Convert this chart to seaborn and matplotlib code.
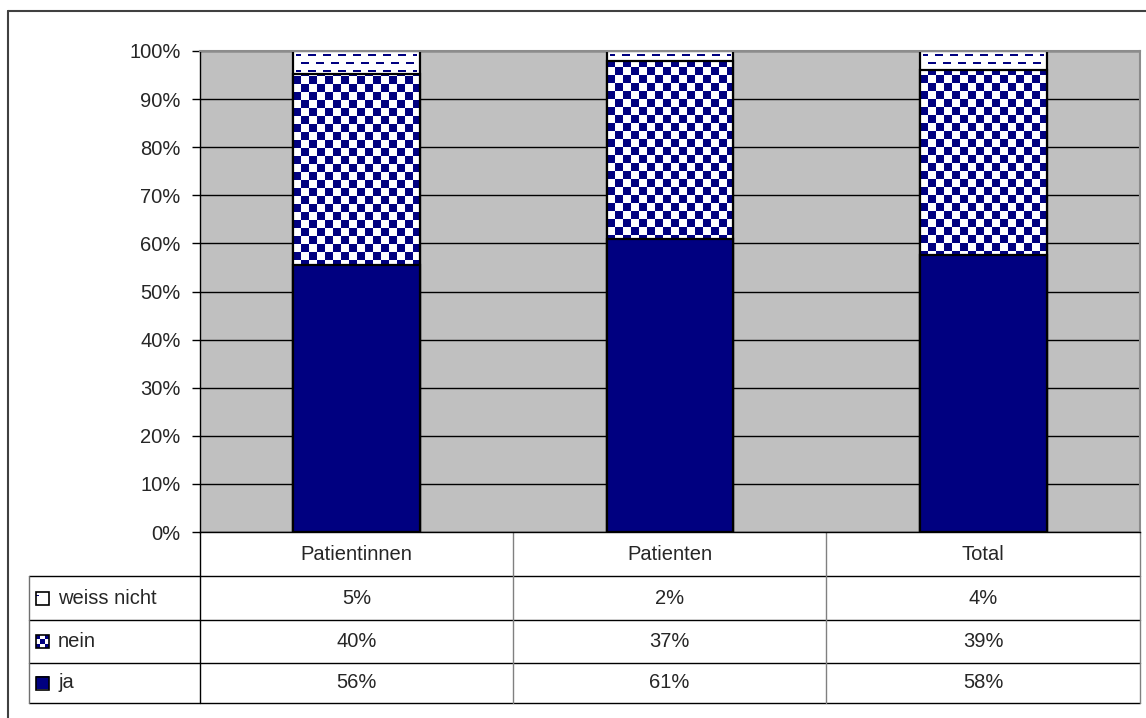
import numpy as np
import pandas as pd
import seaborn as sns
import matplotlib.pyplot as plt
from matplotlib.ticker import FuncFormatter

# Werte (Anteile in %)
categories = ['Patientinnen', 'Patienten', 'Total']
ja = [55.6, 60.9, 57.5]
nein = [39.6, 37.1, 38.6]
weiss_nicht = [4.8, 2.0, 3.9]
series_names = ['weiss nicht', 'nein', 'ja']

NAVY = '#000080'
GRAU = '#C0C0C0'
FS = 14.5

sns.set_style('white')
plt.rcParams['font.family'] = ['Liberation Sans', 'DejaVu Sans']
plt.rcParams['font.size'] = FS

W_PX, H_PX = 1146, 718
fig = plt.figure(figsize=(W_PX / 100, H_PX / 100), dpi=100)
ax = fig.add_axes([200 / W_PX, 1 - 532 / H_PX, 940 / W_PX, 481 / H_PX])
ax.set_facecolor(GRAU)

df = pd.DataFrame({'kat': categories, 'ja': ja, 'nein': nein, 'weiss': weiss_nicht})
df['bis_nein'] = df['ja'] + df['nein']
df['bis_weiss'] = df['bis_nein'] + df['weiss']


def texture(ax, patch, kind, z):
    x0, y0 = patch.get_x(), patch.get_y()
    w, h = patch.get_width(), patch.get_height()
    (px0, py0), (px1, py1) = ax.transData.transform([(x0, y0), (x0 + w, y0 + h)])
    W = max(int(round(px1 - px0)), 1)
    H = max(int(round(py1 - py0)), 1)
    yy, xx = np.mgrid[0:H, 0:W]
    if kind == 'checker':
        yb = H - 1 - yy  # vom Balkenboden aus
        mask = ((xx // 8 + yb // 8) % 2 == 0)
    else:
        row = (yy - 3) % 8
        off = ((yy - 3) // 8 % 2) * 7
        mask = (row < 2) & (((xx + off) % 15) < 8) & (xx > 2) & (xx < W - 3)
    img = np.ones((H, W, 3))
    img[mask] = np.array([0, 0, 128]) / 255
    im = ax.imshow(img, extent=(x0, x0 + w, y0, y0 + h), origin='upper',
                   interpolation='nearest', aspect='auto', zorder=z + 0.1)
    im.set_clip_path(patch)
    patch.set_facecolor('none')
    patch.set_zorder(z + 0.2)


# gestapelt: kumulierte Balken überlagert
sns.barplot(data=df, x='kat', y='bis_weiss', color='white', saturation=1, width=0.405,
            edgecolor='black', linewidth=1.6, ax=ax, zorder=2)
bars_weiss = ax.containers[-1]
sns.barplot(data=df, x='kat', y='bis_nein', color='white', saturation=1, width=0.405,
            edgecolor='black', linewidth=1.6, ax=ax, zorder=3)
bars_nein = ax.containers[-1]
sns.barplot(data=df, x='kat', y='ja', color=NAVY, saturation=1, width=0.405,
            edgecolor='black', linewidth=1.6, ax=ax, zorder=4)

ax.set_xlim(-0.5, 2.5)
ax.set_ylim(0, 100)
ax.set_autoscale_on(False)
for p in bars_weiss:
    texture(ax, p, 'dash', 2)
for p in bars_nein:
    texture(ax, p, 'checker', 3)
ax.set_xlim(-0.5, 2.5)
ax.set_ylim(0, 100)

ax.set_yticks(np.arange(0, 101, 10))
ax.yaxis.set_major_formatter(FuncFormatter(lambda v, _: f'{v:.0f}%'))
ax.yaxis.grid(True, color='black', lw=1)
ax.set_axisbelow(True)
ax.set_xticks([])
ax.set_xlabel('')
ax.set_ylabel('')
ax.tick_params(axis='y', left=True, length=6, width=1, color='black', pad=8, labelsize=FS)
for s in ['top', 'right']:
    ax.spines[s].set_color('#8c8c8c')
    ax.spines[s].set_linewidth(1.5)
for s in ['left', 'bottom']:
    ax.spines[s].set_color('black')
    ax.spines[s].set_linewidth(1)

# Datentabelle und Rahmen in Pixelkoordinaten
ov = fig.add_axes([0, 0, 1, 1], zorder=-1)
ov.set_xlim(0, W_PX)
ov.set_ylim(H_PX, 0)
ov.axis('off')
ov.patch.set_alpha(0)

# äusserer Rahmen
ov.plot([8, W_PX], [11, 11], color='#404040', lw=1.5)
ov.plot([8, 8], [11, H_PX], color='#404040', lw=1.5)

col_x = [200, 513, 826, 1140]
row_y = [532, 576, 620, 663, 703]
for y in row_y[1:]:
    ov.plot([29, 1140], [y, y], color='black', lw=1)
ov.plot([29, 29], [576, 703], color='#707070', lw=1)
ov.plot([200, 200], [532, 703], color='black', lw=1)
for x in col_x[1:]:
    ov.plot([x, x], [532, 703], color='#808080', lw=1)

cx = [(col_x[i] + col_x[i + 1]) / 2 for i in range(3)]
for x, k in zip(cx, categories):
    ov.text(x, 554, k, ha='center', va='center', fontsize=FS)

rows = [weiss_nicht, nein, ja]
navy = np.array([0, 0, 128]) / 255
for i, (name, vals) in enumerate(zip(series_names, rows)):
    yc = (row_y[i + 1] + row_y[i + 2]) / 2
    ov.text(58, yc, name, ha='left', va='center', fontsize=FS)
    for x, v in zip(cx, vals):
        ov.text(x, yc, f'{round(v):.0f}%', ha='center', va='center', fontsize=FS)
    # Legendensymbol
    n = 12
    yy, xx = np.mgrid[0:n, 0:n]
    key = np.ones((n, n, 3))
    if name == 'ja':
        key[:] = navy
    elif name == 'nein':
        key[((xx // 4 + yy // 4) % 2 == 0)] = navy
    else:
        key[(yy == 4) & (xx < 3)] = navy
    ov.imshow(key, extent=(36, 49, yc + 6.5, yc - 6.5), origin='upper',
              interpolation='nearest', aspect='auto', zorder=3)
    ov.add_patch(plt.Rectangle((36, yc - 6.5), 13, 13, fill=False, ec='black', lw=1.2, zorder=4))
ov.set_xlim(0, W_PX)
ov.set_ylim(H_PX, 0)

fig.savefig('out.png', dpi=100)
